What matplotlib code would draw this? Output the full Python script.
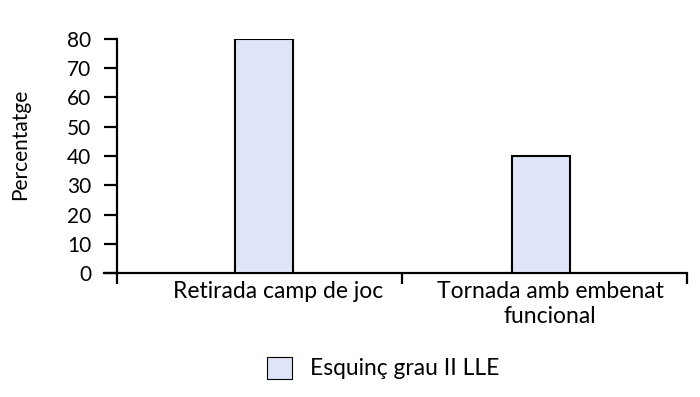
import matplotlib
matplotlib.use("Agg")
import matplotlib.pyplot as plt
from matplotlib.patches import Patch

categories = ["Retirada camp de joc", "Tornada amb embenat\nfuncional"]
values = [80, 40]
series_name = "Esquinç grau II LLE"
yticks = [0, 10, 20, 30, 40, 50, 60, 70, 80]

plt.rcParams['font.family'] = ['Lato', 'DejaVu Sans']

fig = plt.figure(figsize=(7, 3.97), dpi=100)
ax = fig.add_axes([0.167, 0.312, 0.814, 0.590])

color = "#dfe4f8"
# bars sit slightly off the category centres in the original
x = [i + 0.016 - 0.028 * i for i in range(len(categories))]
ax.bar(x, values, width=0.202, color=color, edgecolor="black", linewidth=1.5, zorder=3)

ax.set_xlim(-0.5, len(categories) - 0.5)
ax.set_ylim(0, 80)
ax.set_yticks(yticks)
ax.set_yticklabels([str(v) for v in yticks], fontsize=15)
ax.tick_params(axis='y', direction='out', length=9.5, width=1.6, pad=9)

# category boundaries as major ticks, labels as minor ticks
ax.set_xticks([i - 0.5 for i in range(len(categories) + 1)])
ax.set_xticklabels([])
ax.tick_params(axis='x', which='major', direction='out', length=8, width=1.6)
ax.set_xticks([i + 0.065 - 0.045 * i for i in range(len(categories))], minor=True)
ax.set_xticklabels(categories, minor=True, fontsize=16.5, linespacing=1.2)
ax.tick_params(axis='x', which='minor', length=0, pad=6)

for s in ['top', 'right']:
    ax.spines[s].set_visible(False)
ax.spines['left'].set_linewidth(1.6)
ax.spines['bottom'].set_linewidth(1.6)
ax.spines['bottom'].set_bounds(-0.545, len(categories) - 0.5)

ax.set_ylabel("Percentatge", fontsize=15)
ax.yaxis.set_label_coords(-0.153, 0.55)

handle = Patch(facecolor=color, edgecolor="black", linewidth=0.8)
fig.legend([handle], [series_name], loc='center', bbox_to_anchor=(0.547, 0.073),
           frameon=False, fontsize=16.4, handlelength=1.1, handleheight=1.1,
           handletextpad=0.8)

fig.savefig("out.png", dpi=100)
